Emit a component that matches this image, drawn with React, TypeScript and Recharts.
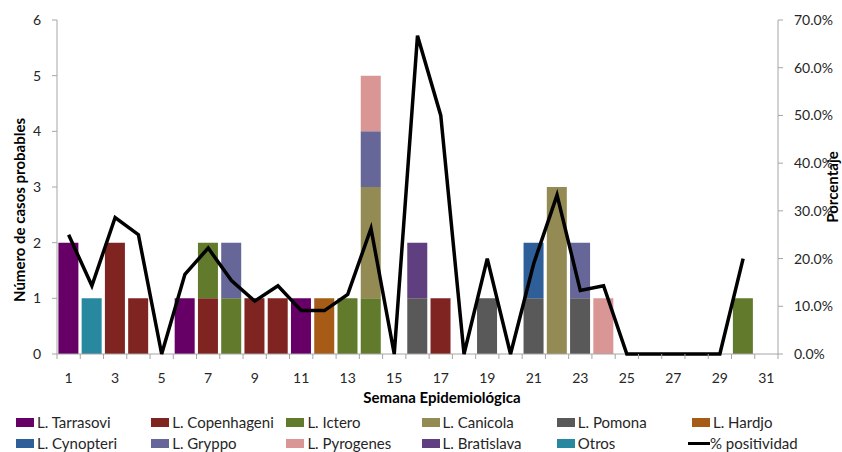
import { ComposedChart, Bar, Line, XAxis, YAxis } from "recharts";

document.body.style.margin = "0";

const weeks = [
  "1", "2", "3", "4", "5", "6", "7", "8", "9", "10", "11", "12", "13", "14", "15", "16",
  "17", "18", "19", "20", "21", "22", "23", "24", "25", "26", "27", "28", "29", "30", "31",
];

// casos probables por serovar (semana 1..31)
const tarrasovi =   [2, 0, 0, 0, 0, 1, 0, 0, 0, 0, 1, 0, 0, 0, 0, 0, 0, 0, 0, 0, 0, 0, 0, 0, 0, 0, 0, 0, 0, 0, 0];
const copenhageni = [0, 0, 2, 1, 0, 0, 1, 0, 1, 1, 0, 0, 0, 0, 0, 0, 1, 0, 0, 0, 0, 0, 0, 0, 0, 0, 0, 0, 0, 0, 0];
const ictero =      [0, 0, 0, 0, 0, 0, 1, 1, 0, 0, 0, 0, 1, 1, 0, 0, 0, 0, 0, 0, 0, 0, 0, 0, 0, 0, 0, 0, 0, 1, 0];
const canicola =    [0, 0, 0, 0, 0, 0, 0, 0, 0, 0, 0, 0, 0, 2, 0, 0, 0, 0, 0, 0, 0, 3, 0, 0, 0, 0, 0, 0, 0, 0, 0];
const pomona =      [0, 0, 0, 0, 0, 0, 0, 0, 0, 0, 0, 0, 0, 0, 0, 1, 0, 0, 1, 0, 1, 0, 1, 0, 0, 0, 0, 0, 0, 0, 0];
const hardjo =      [0, 0, 0, 0, 0, 0, 0, 0, 0, 0, 0, 1, 0, 0, 0, 0, 0, 0, 0, 0, 0, 0, 0, 0, 0, 0, 0, 0, 0, 0, 0];
const cynopteri =   [0, 0, 0, 0, 0, 0, 0, 0, 0, 0, 0, 0, 0, 0, 0, 0, 0, 0, 0, 0, 1, 0, 0, 0, 0, 0, 0, 0, 0, 0, 0];
const gryppo =      [0, 0, 0, 0, 0, 0, 0, 1, 0, 0, 0, 0, 0, 1, 0, 0, 0, 0, 0, 0, 0, 0, 1, 0, 0, 0, 0, 0, 0, 0, 0];
const pyrogenes =   [0, 0, 0, 0, 0, 0, 0, 0, 0, 0, 0, 0, 0, 1, 0, 0, 0, 0, 0, 0, 0, 0, 0, 1, 0, 0, 0, 0, 0, 0, 0];
const bratislava =  [0, 0, 0, 0, 0, 0, 0, 0, 0, 0, 0, 0, 0, 0, 0, 1, 0, 0, 0, 0, 0, 0, 0, 0, 0, 0, 0, 0, 0, 0, 0];
const otros =       [0, 1, 0, 0, 0, 0, 0, 0, 0, 0, 0, 0, 0, 0, 0, 0, 0, 0, 0, 0, 0, 0, 0, 0, 0, 0, 0, 0, 0, 0, 0];

// % positividad
const positividad = [
  25, 14.3, 28.6, 25, 0, 16.7, 22.2, 15.4, 11.1, 14.3, 9.1, 9.1, 12.5, 26.3, 0, 66.7,
  50, 0, 20, 0, 19, 33.3, 13.3, 14.3, 0, 0, 0, 0, 0, 20, null,
];

const countTicks = [0, 1, 2, 3, 4, 5, 6];
const pctTicks = [0, 10, 20, 30, 40, 50, 60, 70];

const series = [
  { key: "tarrasovi", name: "L. Tarrasovi", color: "#660066", values: tarrasovi },
  { key: "copenhageni", name: "L. Copenhageni", color: "#7f2420", values: copenhageni },
  { key: "ictero", name: "L. Ictero", color: "#617a2b", values: ictero },
  { key: "canicola", name: "L. Canicola", color: "#948a54", values: canicola },
  { key: "pomona", name: "L. Pomona", color: "#595959", values: pomona },
  { key: "hardjo", name: "L. Hardjo", color: "#a65c17", values: hardjo },
  { key: "cynopteri", name: "L. Cynopteri", color: "#2e5f99", values: cynopteri },
  { key: "gryppo", name: "L. Gryppo", color: "#666699", values: gryppo },
  { key: "pyrogenes", name: "L. Pyrogenes", color: "#d99694", values: pyrogenes },
  { key: "bratislava", name: "L. Bratislava", color: "#5f3f7f", values: bratislava },
  { key: "otros", name: "Otros", color: "#27889f", values: otros },
];

const data = weeks.map((week, i) => {
  const row: Record<string, any> = { week, pct: positividad[i] };
  series.forEach((s) => {
    row[s.key] = s.values[i];
  });
  return row;
});

const FONT = "Lato, 'Open Sans', sans-serif";
const AXIS = "#a6a6a6";
const TEXT = "#262626";
const W = 842;
const H = 452;
const LEFT_W = 57;
const RIGHT_W = 64;
const BAND = (W - LEFT_W - RIGHT_W) / weeks.length;

function WeekTick(props: any) {
  const { x, y, payload, index } = props;
  const odd = Number(payload.value) % 2 === 1;
  return (
    <g>
      <line x1={x - BAND / 2} x2={x - BAND / 2} y1={y} y2={y + 5} stroke={AXIS} />
      {index === weeks.length - 1 && (
        <line x1={x + BAND / 2} x2={x + BAND / 2} y1={y} y2={y + 5} stroke={AXIS} />
      )}
      {odd && (
        <text x={x} y={y + 29} textAnchor="middle" fill={TEXT} fontSize={14}>
          {payload.value}
        </text>
      )}
    </g>
  );
}

function ChartLegend() {
  const items = [
    ...series.map((s) => ({ name: s.name, color: s.color, line: false })),
    { name: "% positividad", color: "#000", line: true },
  ];
  return (
    <div style={{ position: "absolute", left: 0, top: 411, width: W, height: 41, overflow: "hidden" }}>
      {items.map((it, i) => {
        const col = i % 6;
        const row = Math.floor(i / 6);
        return (
          <div
            key={it.name}
            style={{
              position: "absolute",
              left: 16 + col * 135.2,
              top: row * 21,
              height: 22,
              display: "flex",
              alignItems: "center",
              fontSize: 15,
              color: TEXT,
              whiteSpace: "nowrap",
            }}
          >
            {it.line ? (
              <span style={{ display: "inline-block", width: 22, height: 3, background: "#000", marginLeft: -4 }} />
            ) : (
              <span style={{ display: "inline-block", width: 18, height: 9, background: it.color, marginRight: 3 }} />
            )}
            <span>{it.name}</span>
          </div>
        );
      })}
    </div>
  );
}

export default function App() {
  return (
    <div style={{ position: "relative", width: W, height: H, fontFamily: FONT, background: "#fff" }}>
      <ComposedChart
        width={W}
        height={H}
        data={data}
        margin={{ top: 20, right: 0, bottom: 0, left: 0 }}
        barCategoryGap="6%"
        style={{ fontFamily: FONT }}
      >
        <XAxis
          dataKey="week"
          height={98}
          interval={0}
          tickSize={0}
          tickMargin={0}
          tickLine={false}
          axisLine={{ stroke: AXIS }}
          tick={<WeekTick />}
          label={{
            content: () => (
              <text x={442} y={403} textAnchor="middle" fill="#000" fontSize={15} fontWeight="bold">
                Semana Epidemiológica
              </text>
            ),
          }}
        />
        <YAxis
          yAxisId="cnt"
          width={LEFT_W}
          domain={[0, 6]}
          ticks={countTicks}
          interval={0}
          tickSize={5}
          tickMargin={11}
          axisLine={{ stroke: AXIS }}
          tickLine={{ stroke: AXIS }}
          tick={{ fill: TEXT, fontSize: 14 }}
          label={{
            content: () => (
              <text
                x={19}
                y={210}
                transform="rotate(-90 19 210)"
                textAnchor="middle"
                dominantBaseline="central"
                fill="#000"
                fontSize={15}
                fontWeight="bold"
              >
                Número de casos probables
              </text>
            ),
          }}
        />
        <YAxis
          yAxisId="pct"
          orientation="right"
          width={RIGHT_W}
          domain={[0, 70]}
          ticks={pctTicks}
          interval={0}
          tickSize={5}
          tickMargin={11}
          axisLine={{ stroke: AXIS }}
          tickLine={{ stroke: AXIS }}
          tick={{ fill: TEXT, fontSize: 14 }}
          tickFormatter={(v: number) => `${v.toFixed(1)}%`}
          label={{
            content: () => (
              <text
                x={832}
                y={187}
                transform="rotate(-90 832 187)"
                textAnchor="middle"
                dominantBaseline="central"
                fill="#000"
                fontSize={15}
                fontWeight="bold"
              >
                Porcentaje
              </text>
            ),
          }}
        />
        {series.map((s) => (
          <Bar
            key={s.key}
            yAxisId="cnt"
            dataKey={s.key}
            name={s.name}
            stackId="casos"
            fill={s.color}
            isAnimationActive={false}
          />
        ))}
        <Line
          yAxisId="pct"
          type="linear"
          dataKey="pct"
          name="% positividad"
          stroke="#000"
          strokeWidth={3.5}
          dot={false}
          activeDot={false}
          connectNulls={false}
          isAnimationActive={false}
          {...({ zIndex: 1000 } as any)}
        />
      </ComposedChart>
      <ChartLegend />
    </div>
  );
}
